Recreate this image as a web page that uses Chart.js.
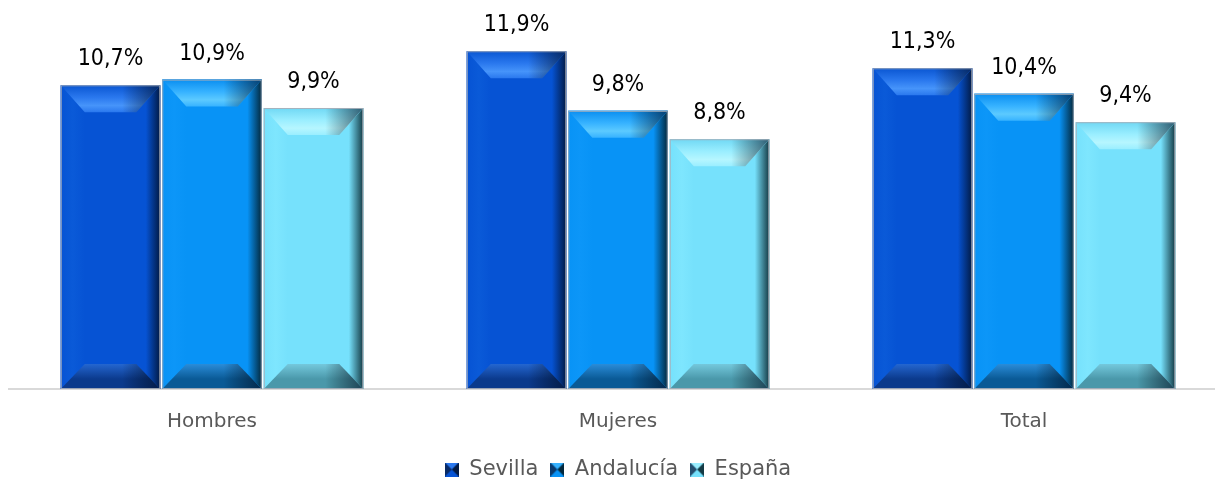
<!DOCTYPE html>
<html>
<head>
<meta charset="utf-8">
<script src="https://cdn.jsdelivr.net/npm/chart.js@4.4.1/dist/chart.umd.min.js"></script>
<style>
html,body{margin:0;padding:0;background:#fff;overflow:hidden;width:1215px;height:482px;}
#wrap{width:1236px;height:490px;position:relative;}
</style>
</head>
<body>
<div id="wrap"><canvas id="c"></canvas></div>
<script>
const categories = ['Hombres', 'Mujeres', 'Total'];
const seriesNames = ['Sevilla', 'Andalucía', 'España'];
const sevilla = [10.7, 11.9, 11.3];
const andalucia = [10.9, 9.8, 10.4];
const espana = [9.9, 8.8, 9.4];

const FONT_V = "'DejaVu Sans Condensed', 'DejaVu Sans', sans-serif";
const FONT = "'DejaVu Sans', sans-serif";

const palettes = [
  {face:'#0653d4', topEdge:'#0a56d2', top:'#2a78ee', topHi:'#4694fa', left:'#0a5ad8', right:'#021a44', bottom:'#0b3a8c', bottomEdge:'#2466d0'},
  {face:'#0893f6', topEdge:'#0a8ef0', top:'#36b2ff', topHi:'#5ccaff', left:'#0c96f8', right:'#03283c', bottom:'#0a5a96', bottomEdge:'#2a8cd8'},
  {face:'#76e1fc', topEdge:'#70d8f4', top:'#9aeeff', topHi:'#b6f6ff', left:'#7ee6fe', right:'#143a44', bottom:'#4a98aa', bottomEdge:'#74c8dc'}
];

function legendIcon(p){
  const c = document.createElement('canvas');
  c.width = 14; c.height = 14;
  const g = c.getContext('2d');
  g.fillStyle = p.face; g.fillRect(0,0,14,14);
  g.fillStyle = p.top;
  g.beginPath(); g.moveTo(0,0); g.lineTo(14,0); g.lineTo(7,7); g.closePath(); g.fill();
  g.fillStyle = p.right;
  g.beginPath(); g.moveTo(14,0); g.lineTo(14,14); g.lineTo(7,7); g.closePath(); g.fill();
  g.fillStyle = '#0a1c40';
  g.globalAlpha = 0.75;
  g.beginPath(); g.moveTo(0,0); g.lineTo(0,14); g.lineTo(7,7); g.closePath(); g.fill();
  return c;
}

const bevelPlugin = {
  id: 'bevel',
  afterDatasetsDraw(chart){
    const ctx = chart.ctx;
    chart.data.datasets.forEach((ds, di) => {
      const meta = chart.getDatasetMeta(di);
      const p = palettes[di];
      meta.data.forEach((bar, i) => {
        const L = bar.x - bar.width/2, R = bar.x + bar.width/2;
        const T = bar.y, B = bar.base;
        const bx = 24, by = 27, bb = 25;
        ctx.save();
        ctx.fillStyle = p.face;
        ctx.fillRect(L, T, R-L, B-T);
        let gl = ctx.createLinearGradient(L,0,L+bx,0);
        gl.addColorStop(0, p.face); gl.addColorStop(0.5, p.left); gl.addColorStop(1, p.face);
        ctx.fillStyle = gl;
        ctx.beginPath(); ctx.moveTo(L,T); ctx.lineTo(L+bx,T+by); ctx.lineTo(L+bx,B-bb); ctx.lineTo(L,B); ctx.closePath(); ctx.fill();
        let gr = ctx.createLinearGradient(R-bx,0,R,0);
        gr.addColorStop(0, p.face); gr.addColorStop(0.4, p.face); gr.addColorStop(1, p.right);
        ctx.fillStyle = gr;
        ctx.beginPath(); ctx.moveTo(R,T); ctx.lineTo(R,B); ctx.lineTo(R-bx,B-bb); ctx.lineTo(R-bx,T+by); ctx.closePath(); ctx.fill();
        let gt = ctx.createLinearGradient(0,T,0,T+by);
        gt.addColorStop(0, p.topEdge); gt.addColorStop(0.45, p.top); gt.addColorStop(0.75, p.topHi); gt.addColorStop(1, p.top);
        ctx.fillStyle = gt;
        ctx.beginPath(); ctx.moveTo(L,T); ctx.lineTo(R,T); ctx.lineTo(R-bx,T+by); ctx.lineTo(L+bx,T+by); ctx.closePath(); ctx.fill();
        let gtr = ctx.createLinearGradient(R-bx-14,0,R,0);
        gtr.addColorStop(0,'rgba(0,0,0,0)'); gtr.addColorStop(1,'rgba(0,10,30,0.6)');
        ctx.fillStyle = gtr;
        ctx.beginPath(); ctx.moveTo(L,T); ctx.lineTo(R,T); ctx.lineTo(R-bx,T+by); ctx.lineTo(L+bx,T+by); ctx.closePath(); ctx.fill();
        let gb = ctx.createLinearGradient(0,B-bb,0,B);
        gb.addColorStop(0, p.bottomEdge); gb.addColorStop(0.6, p.bottom); gb.addColorStop(1, p.bottom);
        ctx.fillStyle = gb;
        ctx.beginPath(); ctx.moveTo(L,B); ctx.lineTo(R,B); ctx.lineTo(R-bx,B-bb); ctx.lineTo(L+bx,B-bb); ctx.closePath(); ctx.fill();
        ctx.fillStyle = gtr;
        ctx.beginPath(); ctx.moveTo(L,B); ctx.lineTo(R,B); ctx.lineTo(R-bx,B-bb); ctx.lineTo(L+bx,B-bb); ctx.closePath(); ctx.fill();
        ctx.strokeStyle = 'rgba(170,175,185,0.9)';
        ctx.lineWidth = 1;
        ctx.strokeRect(L+0.5, T+0.5, R-L-1, B-T-1);
        ctx.fillStyle = '#000';
        ctx.font = '23px ' + FONT_V;
        ctx.textAlign = 'center';
        ctx.textBaseline = 'middle';
        ctx.fillText(ds.data[i].toFixed(1).replace('.', ',') + '%', bar.x, bar.y - 26);
        ctx.restore();
      });
    });
  }
};

const datasets = [sevilla, andalucia, espana].map((d, i) => ({
  label: seriesNames[i],
  data: d,
  backgroundColor: palettes[i].face,
  borderWidth: 0,
  barPercentage: 0.98,
  categoryPercentage: 0.75,
  pointStyle: legendIcon(palettes[i])
}));

new Chart(document.getElementById('c'), {
  type: 'bar',
  data: { labels: categories, datasets },
  options: {
    responsive: true,
    maintainAspectRatio: false,
    animation: false,
    layout: { padding: { left: 9, right: 9, top: 20, bottom: 0 } },
    scales: {
      x: {
        grid: { display: false },
        border: { color: '#d9d9d9', width: 2 },
        ticks: { color: '#595959', font: { family: FONT, size: 20 }, padding: 13 }
      },
      y: { display: false, min: 0, max: 13 }
    },
    plugins: {
      legend: {
        position: 'bottom',
        labels: {
          usePointStyle: true,
          color: '#595959',
          font: { family: FONT, size: 21 },
          padding: 12,
          boxWidth: 14, boxHeight: 14
        }
      },
      tooltip: { enabled: false }
    }
  },
  plugins: [bevelPlugin]
});
</script>
</body>
</html>
